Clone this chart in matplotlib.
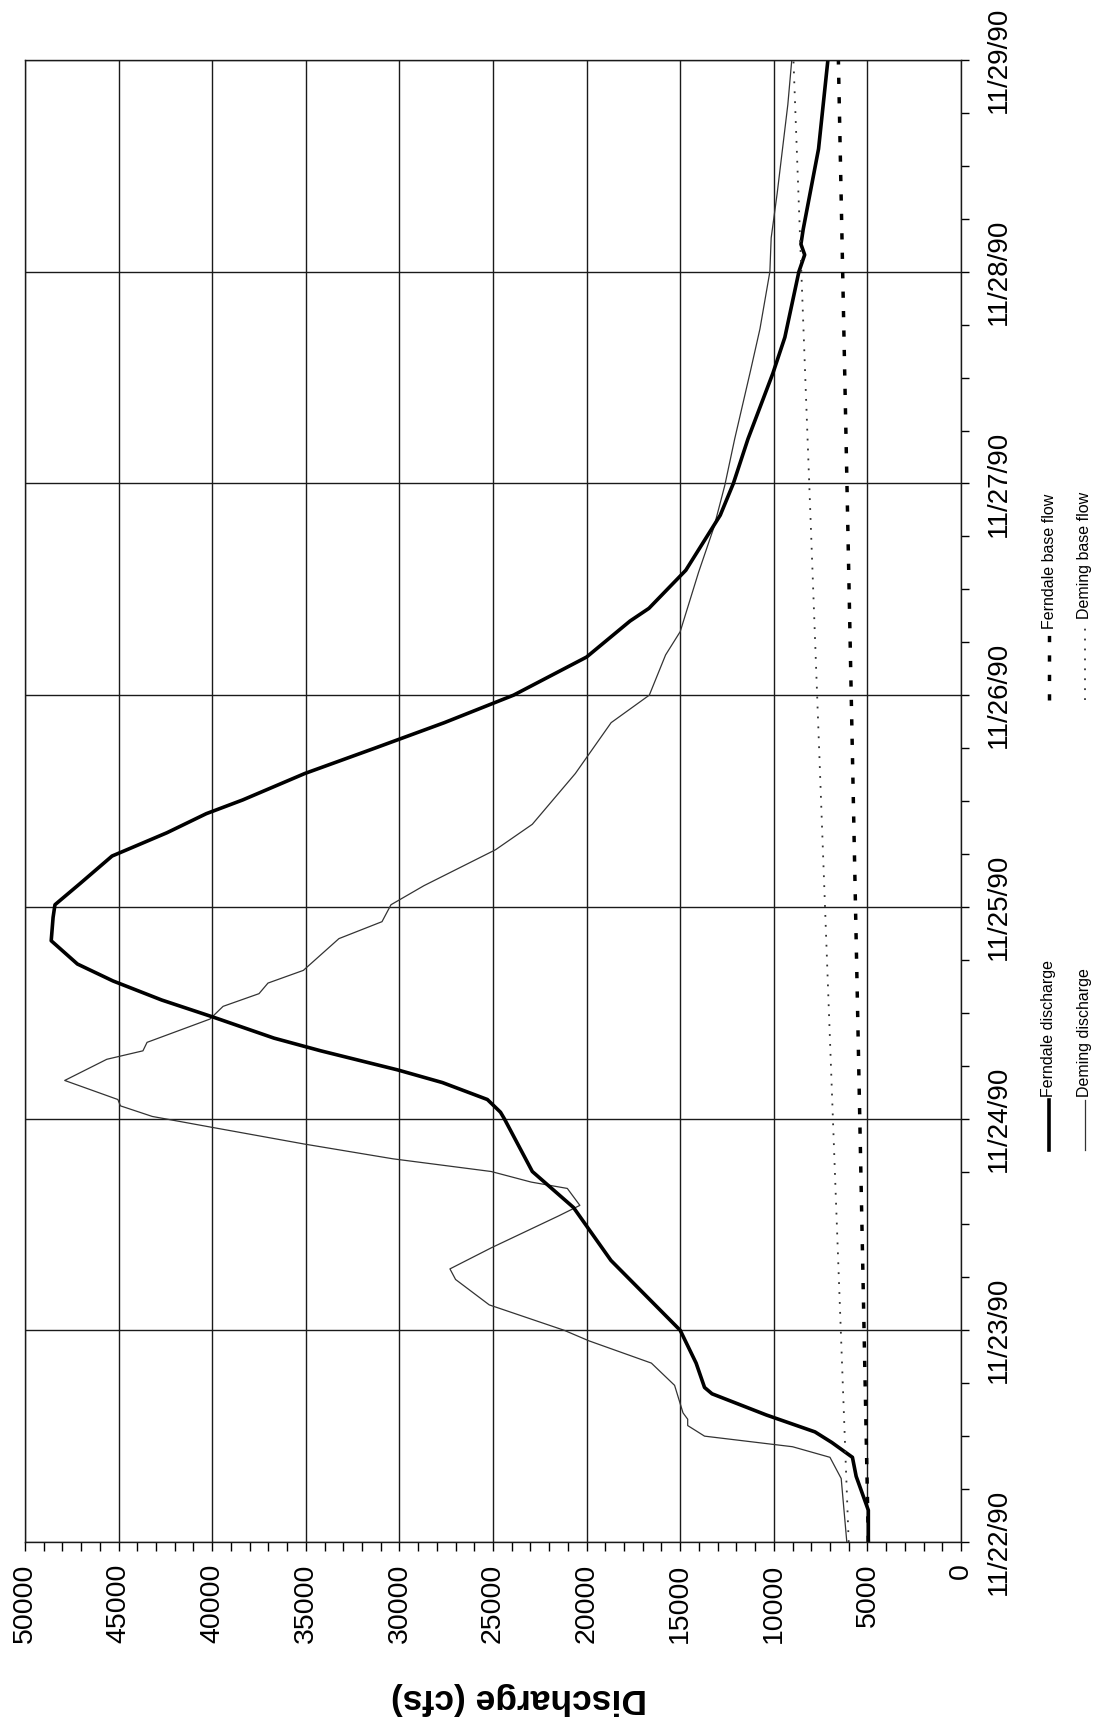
import matplotlib
matplotlib.use('Agg')
import matplotlib.pyplot as plt
from matplotlib.lines import Line2D
from matplotlib.ticker import MultipleLocator

plt.rcParams['font.family'] = ['Liberation Sans', 'DejaVu Sans']

# time in days after 11/22/90 00:00, discharge in cfs
ferndale_day = [0.00, 0.15, 0.31, 0.40, 0.47, 0.52, 0.60, 0.70, 0.73, 0.845, 1.00,
                1.33, 1.58, 1.75, 2.00, 2.03, 2.09, 2.17, 2.23, 2.32, 2.38, 2.48,
                2.56, 2.65, 2.73, 2.84, 2.95, 3.01, 3.11, 3.24, 3.35, 3.44, 3.505,
                3.63, 3.75, 3.87, 4.00, 4.18, 4.35, 4.41, 4.59, 4.85, 5.00, 5.21,
                5.52, 5.69, 6.00, 6.08, 6.13, 6.20, 6.58, 7.00]
ferndale_cfs = [4950, 4950, 5600, 5800, 6900, 7800, 10400, 13300, 13700, 14150, 15000,
                18700, 20700, 22900, 24400, 24600, 25300, 27700, 30100, 34200, 36700, 39970,
                42700, 45300, 47200, 48600, 48500, 48400, 47060, 45350, 42420, 40320, 38370,
                35050, 31300, 27600, 23900, 20000, 17680, 16670, 14700, 12860, 12160, 11380,
                10050, 9410, 8660, 8350, 8550, 8430, 7610, 7110]

deming_day = [0.00, 0.30, 0.40, 0.45, 0.50, 0.55, 0.58, 0.61, 0.74, 0.845, 0.95,
              1.00, 1.12, 1.24, 1.29, 1.39, 1.54, 1.59, 1.67, 1.70, 1.75, 1.81,
              1.88, 1.96, 2.01, 2.06, 2.09, 2.18, 2.28, 2.32, 2.36, 2.47, 2.53,
              2.59, 2.64, 2.70, 2.85, 2.93, 3.01, 3.10, 3.27, 3.39, 3.63, 3.87,
              4.00, 4.19, 4.30, 4.58, 4.79, 4.99, 5.21, 5.53, 5.73, 6.00, 6.16,
              6.37, 6.79, 7.00]
deming_cfs = [6100, 6400, 7000, 9000, 13700, 14600, 14600, 14850, 15300, 16540, 19870,
              21200, 25200, 27000, 27300, 25080, 21500, 20360, 21030, 22960, 25100, 30350,
              35100, 40100, 43200, 44900, 45040, 47880, 45630, 43700, 43480, 40120, 39420,
              37500, 37020, 35130, 33230, 30930, 30450, 28690, 24860, 22900, 20600, 18690,
              16650, 15780, 15000, 14020, 13210, 12620, 12090, 11250, 10740, 10210, 10140,
              9820, 9250, 9040]

base_day = [0, 7]
ferndale_base_cfs = [4950, 6550]
deming_base_cfs = [6000, 8950]

date_labels = ['11/22/90', '11/23/90', '11/24/90', '11/25/90',
               '11/26/90', '11/27/90', '11/28/90', '11/29/90']

W, H = 1101, 1726
fig = plt.figure(figsize=(W / 100, H / 100), dpi=100)
ax = fig.add_axes([25 / W, 1 - 1542 / H, 936 / W, 1482 / H])

ax.plot(deming_cfs, deming_day, color='#333333', lw=0.9)
ax.plot(ferndale_cfs, ferndale_day, color='black', lw=2.6, solid_joinstyle='round')
ax.plot(ferndale_base_cfs, base_day, color='black', lw=2.5, linestyle=(0, (1.8, 3.8)))
ax.plot(deming_base_cfs, base_day, color='#333333', lw=1.3, linestyle=(0, (1, 4.5)))

ax.set_xlim(50000, 0)
ax.set_ylim(0, 7)
ax.xaxis.set_major_locator(MultipleLocator(5000))
ax.xaxis.set_minor_locator(MultipleLocator(1000))
ax.set_yticks(range(len(date_labels)))
ax.set_yticklabels(date_labels)
ax.yaxis.set_minor_locator(MultipleLocator(0.25))
ax.yaxis.tick_right()

ax.grid(which='major', color='#1a1a1a', lw=1.0)
for sp in ax.spines.values():
    sp.set_linewidth(1.0)
    sp.set_color('#1a1a1a')

ax.tick_params(axis='x', which='both', direction='out', length=6.5, width=1.0,
               labelsize=20.5, labelrotation=90, pad=9)
ax.tick_params(axis='y', which='both', direction='out', length=6, width=1.0,
               labelsize=20, labelrotation=90, pad=12, left=False, right=True)
for lab in ax.get_yticklabels():
    lab.set_va('center')

fig.text(519 / W, 1 - 1698 / H, 'Discharge (cfs)', rotation=180, ha='center',
         va='center', fontsize=25.5, fontweight='bold')


# legend, written sideways to the right of the plot
def legend_entry(x, y0, y1, label, **style):
    fig.add_artist(Line2D([x / W, x / W], [1 - y0 / H, 1 - y1 / H],
                          transform=fig.transFigure, **style))
    fig.text(x / W, 1 - (y1 - 3) / H, label, rotation=90, ha='center', va='bottom',
             fontsize=11.5)


legend_entry(1049, 1150, 1100, 'Ferndale discharge', color='black', lw=2.6)
legend_entry(1085, 1150, 1100, 'Deming discharge', color='#333333', lw=0.9)
legend_entry(1049, 700, 632, 'Ferndale base flow', color='black', lw=2.5,
             linestyle=(0, (1.8, 3.8)))
legend_entry(1085, 700, 622, 'Deming base flow', color='#333333', lw=1.3,
             linestyle=(0, (1, 4.5)))

fig.savefig('out.png', dpi=100)
